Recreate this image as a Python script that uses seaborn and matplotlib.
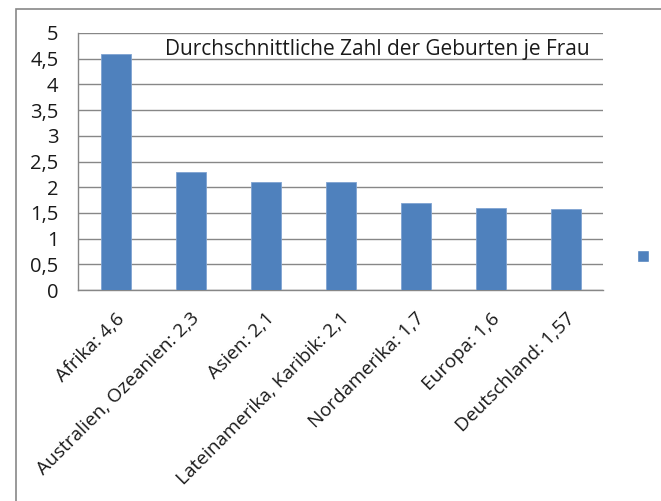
import matplotlib
matplotlib.use("Agg")
import matplotlib.pyplot as plt
import seaborn as sns
import pandas as pd
from matplotlib.patches import Patch, Rectangle
from matplotlib.ticker import FuncFormatter, FixedLocator

regions = ["Afrika: 4,6", "Australien, Ozeanien: 2,3", "Asien: 2,1",
           "Lateinamerika, Karibik: 2,1", "Nordamerika: 1,7", "Europa: 1,6",
           "Deutschland: 1,57"]
births = [4.6, 2.3, 2.1, 2.1, 1.7, 1.6, 1.57]
title = "Durchschnittliche Zahl der Geburten je Frau"

bar_color = "#4F81BD"
grid_color = "#878787"
text_color = "#1a1a1a"

sns.set_style("white")
plt.rcParams['font.family'] = ['Open Sans', 'DejaVu Sans']

df = pd.DataFrame({"region": regions, "births": births})

fig = plt.figure(figsize=(6.61, 5.01), dpi=100)
ax = fig.add_axes([78 / 661, 1 - 290 / 501, 525 / 661, 257 / 501])

# outer frame like the Excel chart area
fig.patches.append(Rectangle((16 / 661, -0.1), 1.2, 1 - 9 / 501 + 0.1,
                             transform=fig.transFigure, fill=False,
                             edgecolor=grid_color, linewidth=1.2))

sns.barplot(data=df, x="region", y="births", color=bar_color, width=0.4,
            saturation=1, edgecolor="#7FA3D2", linewidth=0.6, ax=ax, zorder=3)

ax.set_ylim(0, 5)
ax.set_xlim(-0.5, len(regions) - 0.5)
ax.set_yticks([i * 0.5 for i in range(11)])
ax.yaxis.set_major_formatter(FuncFormatter(lambda v, p: f"{v:g}".replace(".", ",")))
ax.yaxis.grid(True, color=grid_color, linewidth=1.0, zorder=0)
ax.set_axisbelow(True)

ax.set_xlabel("")
ax.set_ylabel("")
ax.set_xticks(range(len(regions)))
ax.set_xticklabels(regions, rotation=45, ha="right", rotation_mode="anchor",
                   fontsize=13.8, color=text_color)
ax.tick_params(axis="x", length=0, pad=14)
ax.xaxis.set_minor_locator(FixedLocator([i - 0.5 for i in range(len(regions) + 1)]))
ax.tick_params(axis="x", which="minor", length=4.5, width=1, color=grid_color,
               direction="out")
ax.tick_params(axis="y", length=5, width=1, color=grid_color, direction="out",
               labelsize=14.5, labelcolor=text_color, pad=9)

for s in ["top", "right"]:
    ax.spines[s].set_visible(False)
for s in ["left", "bottom"]:
    ax.spines[s].set_color(grid_color)
    ax.spines[s].set_linewidth(1.0)

ax.text(0.975, 0.935, title, transform=ax.transAxes, ha="right", va="center",
        fontsize=15, color=text_color, zorder=5)

fig.legend(handles=[Patch(facecolor=bar_color)], labels=[""], loc="upper left",
           bbox_to_anchor=(637 / 661, 1 - 250 / 501), frameon=False,
           borderpad=0, borderaxespad=0, handletextpad=0,
           handlelength=0.72, handleheight=0.72, fontsize=12)

fig.savefig("out.png", dpi=100)
